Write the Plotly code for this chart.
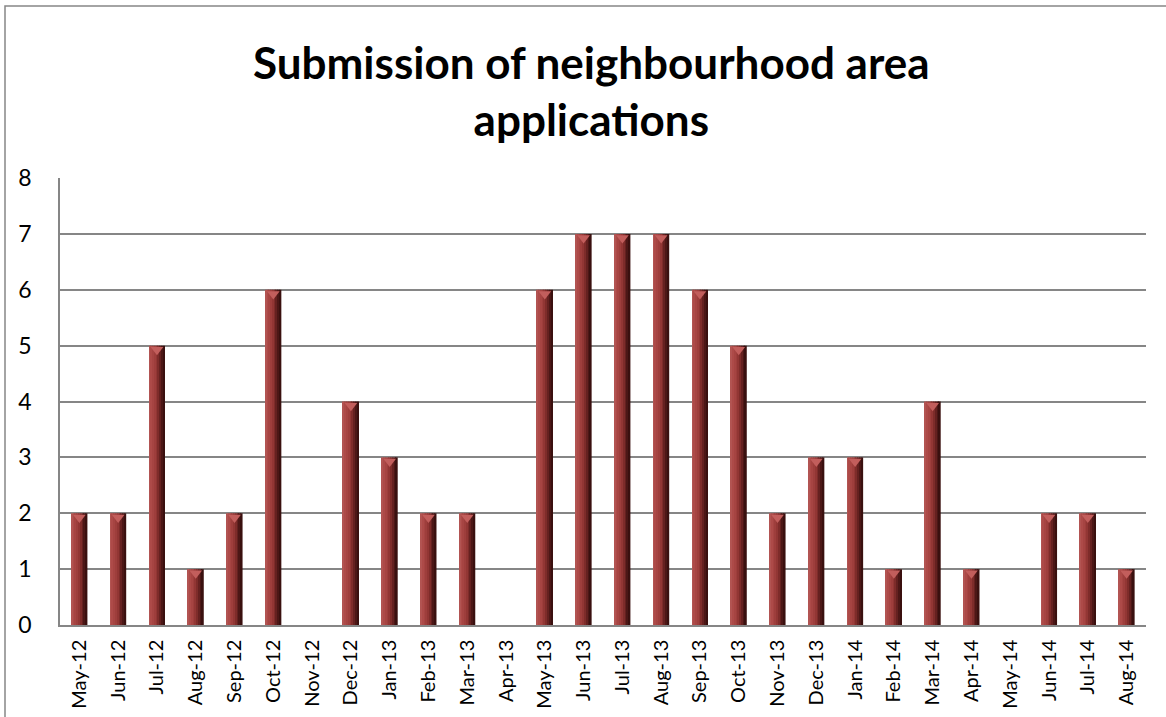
import plotly.graph_objects as go

months = ["May-12", "Jun-12", "Jul-12", "Aug-12", "Sep-12", "Oct-12", "Nov-12",
          "Dec-12", "Jan-13", "Feb-13", "Mar-13", "Apr-13", "May-13", "Jun-13",
          "Jul-13", "Aug-13", "Sep-13", "Oct-13", "Nov-13", "Dec-13", "Jan-14",
          "Feb-14", "Mar-14", "Apr-14", "May-14", "Jun-14", "Jul-14", "Aug-14"]
applications = [2, 2, 5, 1, 2, 6, 0, 4, 3, 2, 2, 0, 6, 7, 7, 7, 6, 5, 2, 3, 3,
                1, 4, 1, 0, 2, 2, 1]
y_ticks = [0, 1, 2, 3, 4, 5, 6, 7, 8]

# Cylinder-like shading: each bar is drawn as narrow vertical strips,
# lighter on the left and darkening toward the right edge.
strip_colors = ["#b25452", "#ad4a48", "#a64442", "#9e3e3c", "#923634",
                "#7e2c2a", "#652120", "#4c1716", "#3a100f"]
bar_width = 0.41
n = len(strip_colors)
sw = bar_width / n

fig = go.Figure()
for i, c in enumerate(strip_colors):
    fig.add_trace(go.Bar(
        x=months, y=applications,
        offset=-bar_width / 2 + i * sw, width=sw * 1.04,
        marker=dict(color=c, line=dict(width=0)),
        showlegend=False, hoverinfo="x+y" if i == 0 else "skip",
    ))

# Bevelled top cap on each non-empty bar
cap_x = [m for m, v in zip(months, applications) if v > 0]
cap_y = [v - 0.075 for v in applications if v > 0]
fig.add_trace(go.Scatter(
    x=cap_x, y=cap_y, mode="markers",
    marker=dict(symbol="triangle-down", size=11, color="#c25e5c",
                line=dict(width=0)),
    showlegend=False, hoverinfo="skip",
))

font_family = "Lato, Calibri, Carlito, sans-serif"

fig.update_layout(
    width=1166, height=717,
    margin=dict(l=60, r=20, t=178, b=92),
    paper_bgcolor="white", plot_bgcolor="white",
    barmode="overlay",
    xaxis=dict(
        type="category", categoryorder="array", categoryarray=months,
        tickangle=-90, tickfont=dict(family=font_family, size=20, color="black"),
        showline=True, linecolor="#868686", linewidth=1.5,
        showgrid=False, ticks="", ticklabelstandoff=5, automargin=False,
        range=[-0.5, len(months) - 0.5],
    ),
    yaxis=dict(
        range=[0, 8], tickvals=y_ticks,
        tickfont=dict(family=font_family, size=23, color="black"),
        showline=True, linecolor="#868686", linewidth=1.5,
        showgrid=True, gridcolor="#868686", gridwidth=1.5,
        zeroline=False, ticks="", ticklabelstandoff=22, automargin=False,
    ),
    annotations=[dict(
        text="<b>Submission of neighbourhood area<br>applications</b>",
        xref="paper", yref="paper",
        x=(591 - 60) / 1086, y=(625 - 91) / 447,
        xanchor="center", yanchor="middle", align="center",
        showarrow=False,
        font=dict(family=font_family, size=44, color="black"),
    )],
    shapes=[dict(
        type="rect", xref="paper", yref="paper",
        x0=(5 - 60) / 1086, x1=(1172 - 60) / 1086,
        y0=-0.3, y1=(625 - 6) / 447,
        line=dict(color="#868686", width=1.5), fillcolor="rgba(0,0,0,0)",
        layer="below",
    )],
)

fig.write_html("out.html")
